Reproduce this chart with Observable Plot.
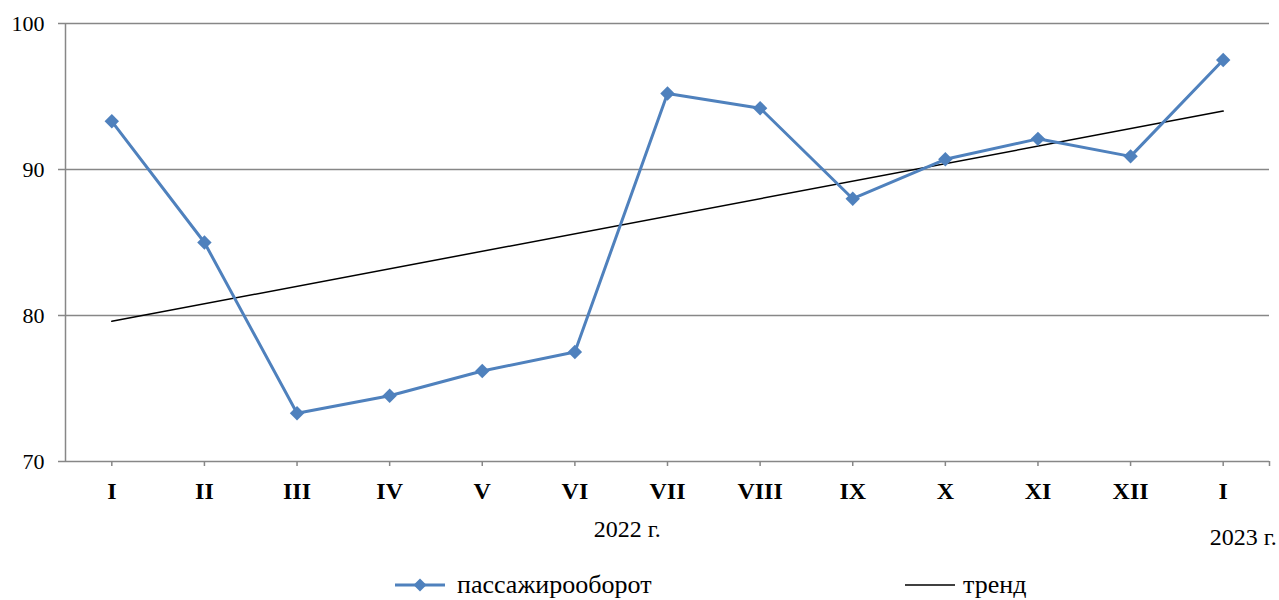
<!DOCTYPE html>
<html>
<head>
<meta charset="utf-8">
<script src="https://cdn.jsdelivr.net/npm/d3@7"></script>
<script src="https://cdn.jsdelivr.net/npm/@observablehq/plot@0.6"></script>
<style>
  body { margin: 0; background: #fff; font-family: "Liberation Serif", "Times New Roman", serif; }
  #wrap { position: relative; width: 1279px; height: 600px; }
  #legend { position: absolute; left: 0; top: 560px; width: 1279px; height: 50px; }
  .item { position: absolute; top: 0; height: 50px; display: flex; align-items: center; font-size: 26px; color: #000; line-height: 1; }
  #chart svg, #chart svg text { font-family: "Liberation Serif", "Times New Roman", serif; }
</style>
</head>
<body>
<div id="wrap">
  <div id="chart"></div>
  <div id="legend">
    <div class="item" style="left:395px">
      <svg width="50" height="16" style="margin-right:12px"><line x1="0" y1="8" x2="50" y2="8" stroke="#4F81BD" stroke-width="3"/><path d="M25,1.5 L31.5,8 L25,14.5 L18.5,8 Z" fill="#4F81BD"/></svg>
      <span>пассажирооборот</span>
    </div>
    <div class="item" style="left:905px">
      <svg width="50" height="16" style="margin-right:8px"><line x1="0" y1="8" x2="50" y2="8" stroke="#000" stroke-width="1.5"/></svg>
      <span>тренд</span>
    </div>
  </div>
</div>
<script>
// Categories (months), 2022 I..XII and 2023 I
const months = ["I", "II", "III", "IV", "V", "VI", "VII", "VIII", "IX", "X", "XI", "XII", "I"];
// пассажирооборот values
const passenger = [93.3, 85.0, 73.3, 74.5, 76.2, 77.5, 95.2, 94.2, 88.0, 90.7, 92.1, 90.9, 97.5];
// trend line values at first and last month
const trendIdx = [0, 12];
const trendValues = [79.6, 94.0];
const yTicks = [70, 80, 90, 100];
const yearLabels = ["2022 г.", "2023 г."];
const yearPos = [5.5, 12];

const data = months.map((m, i) => ({i, m, v: passenger[i]}));
const trend = trendIdx.map((i, k) => ({i, v: trendValues[k]}));

const gray = "#878787";
const blue = "#4F81BD";

const chart = Plot.plot({
  width: 1279,
  height: 560,
  marginLeft: 65,
  marginRight: 10,
  marginTop: 23,
  marginBottom: 99,
  style: { fontSize: "22px", color: "#000", background: "#fff" },
  x: { type: "linear", domain: [-0.5, 12.5] },
  y: { domain: [70, 100] },
  marks: [
    Plot.gridY(yTicks.filter(d => d > 70), { stroke: gray, strokeOpacity: 1, strokeWidth: 1.5 }),
    Plot.ruleX([-0.5], { stroke: gray, strokeWidth: 1.5 }),
    Plot.ruleY([70], { stroke: gray, strokeWidth: 1.5 }),
    Plot.axisY(yTicks, { tickSize: 7, tickPadding: 14, stroke: gray, strokeWidth: 1.5, label: null, fontSize: 22 }),
    Plot.axisX([...d3.range(months.length), 12.5], {
      tickSize: 5, tickPadding: 15, stroke: gray, strokeWidth: 1.5, label: null,
      tickFormat: d => Number.isInteger(d) ? months[d] : "",
      fontWeight: "bold", fontSize: 24
    }),
    Plot.line(trend, { x: "i", y: "v", stroke: "#000", strokeWidth: 1.5 }),
    Plot.line(data, { x: "i", y: "v", stroke: blue, strokeWidth: 3 }),
    Plot.dot(data, { x: "i", y: "v", symbol: "diamond2", r: 6.5, fill: blue, stroke: "none" }),
    Plot.text([yearLabels[0]], { x: () => yearPos[0], text: d => d, frameAnchor: "bottom", dy: 75, dx: 6, fontSize: 24 }),
    Plot.text([yearLabels[1]], { x: () => yearPos[1], text: d => d, frameAnchor: "bottom", dy: 83, dx: 20, fontSize: 24 })
  ]
});
document.getElementById("chart").appendChild(chart);
</script>
</body>
</html>
